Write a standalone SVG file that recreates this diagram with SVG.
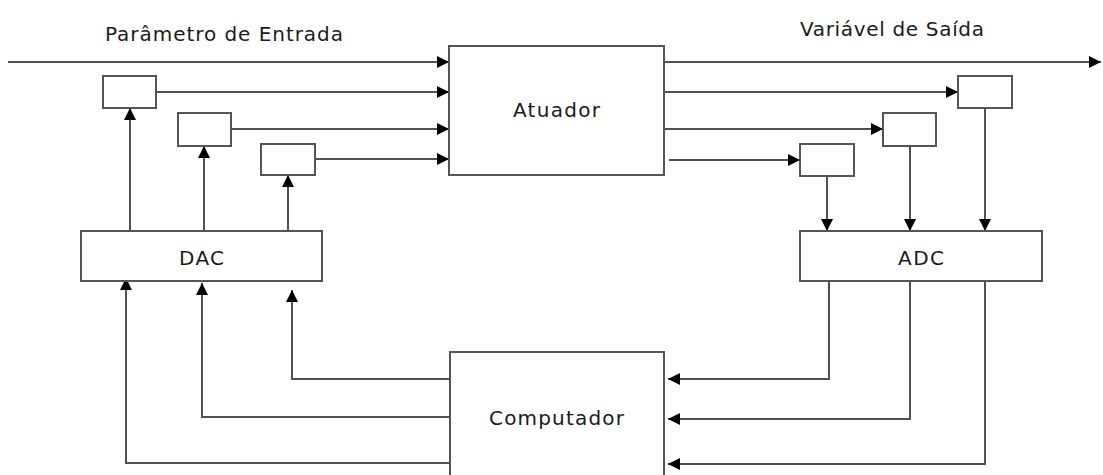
<svg xmlns="http://www.w3.org/2000/svg" width="1103" height="475" viewBox="0 0 1103 475">
<style>
.box{fill:#fff;stroke:#555;stroke-width:2}
.ln{fill:none;stroke:#505050;stroke-width:2}
.t{font-family:"DejaVu Sans","Liberation Sans",sans-serif;font-size:20px;fill:#1a1a1a}
</style>
<defs>
<marker id="ah" viewBox="0 0 10 10" refX="10" refY="5" markerWidth="12" markerHeight="12" markerUnits="userSpaceOnUse" orient="auto">
<path d="M0,0 L10,5 L0,10 z" fill="#000"/>
</marker>
</defs>
<rect width="1103" height="475" fill="#fff"/>
<text class="t" x="105" y="41" textLength="238" lengthAdjust="spacing">Parâmetro de Entrada</text>
<text class="t" x="800" y="36" textLength="184" lengthAdjust="spacing">Variável de Saída</text>
<g id="connectors" marker-end="url(#ah)">
<path class="ln" d="M8,62 H449"/>
<path class="ln" d="M156,92 H449"/>
<path class="ln" d="M231,129 H449"/>
<path class="ln" d="M315,159 H449"/>
<path class="ln" d="M130,231 V108"/>
<path class="ln" d="M204,231 V146"/>
<path class="ln" d="M288,231 V175"/>
<path class="ln" d="M450,379 H292 V290"/>
<path class="ln" d="M450,417 H202 V283"/>
<path class="ln" d="M450,463 H126 V278"/>
<path class="ln" d="M664,62 H1101"/>
<path class="ln" d="M664,92 H958"/>
<path class="ln" d="M664,129 H883"/>
<path class="ln" d="M669,160 H800"/>
<path class="ln" d="M827,176 V231"/>
<path class="ln" d="M910,146 V231"/>
<path class="ln" d="M985,108 V231"/>
<path class="ln" d="M829,281 V379 H668"/>
<path class="ln" d="M910,281 V419 H668"/>
<path class="ln" d="M985,281 V464 H668"/>
</g>
<g id="atuador"><rect class="box" x="449" y="46" width="215" height="129"/><text class="t" x="513" y="117" textLength="87" lengthAdjust="spacing">Atuador</text></g>
<g id="computador"><rect class="box" x="450" y="352" width="214" height="140"/><text class="t" x="489" y="425" textLength="135" lengthAdjust="spacing">Computador</text></g>
<g id="dac"><rect class="box" x="81" y="231" width="241" height="50"/><text class="t" x="179" y="265" textLength="45" lengthAdjust="spacing">DAC</text></g>
<g id="adc"><rect class="box" x="800" y="231" width="242" height="50"/><text class="t" x="898" y="265" textLength="46" lengthAdjust="spacing">ADC</text></g>
<g id="l1"><rect class="box" x="103" y="76" width="53" height="32"/></g>
<g id="l2"><rect class="box" x="178" y="113" width="53" height="33"/></g>
<g id="l3"><rect class="box" x="261" y="144" width="54" height="31"/></g>
<g id="r1"><rect class="box" x="958" y="76" width="54" height="32"/></g>
<g id="r2"><rect class="box" x="883" y="113" width="53" height="33"/></g>
<g id="r3"><rect class="box" x="800" y="144" width="54" height="32"/></g>
</svg>
